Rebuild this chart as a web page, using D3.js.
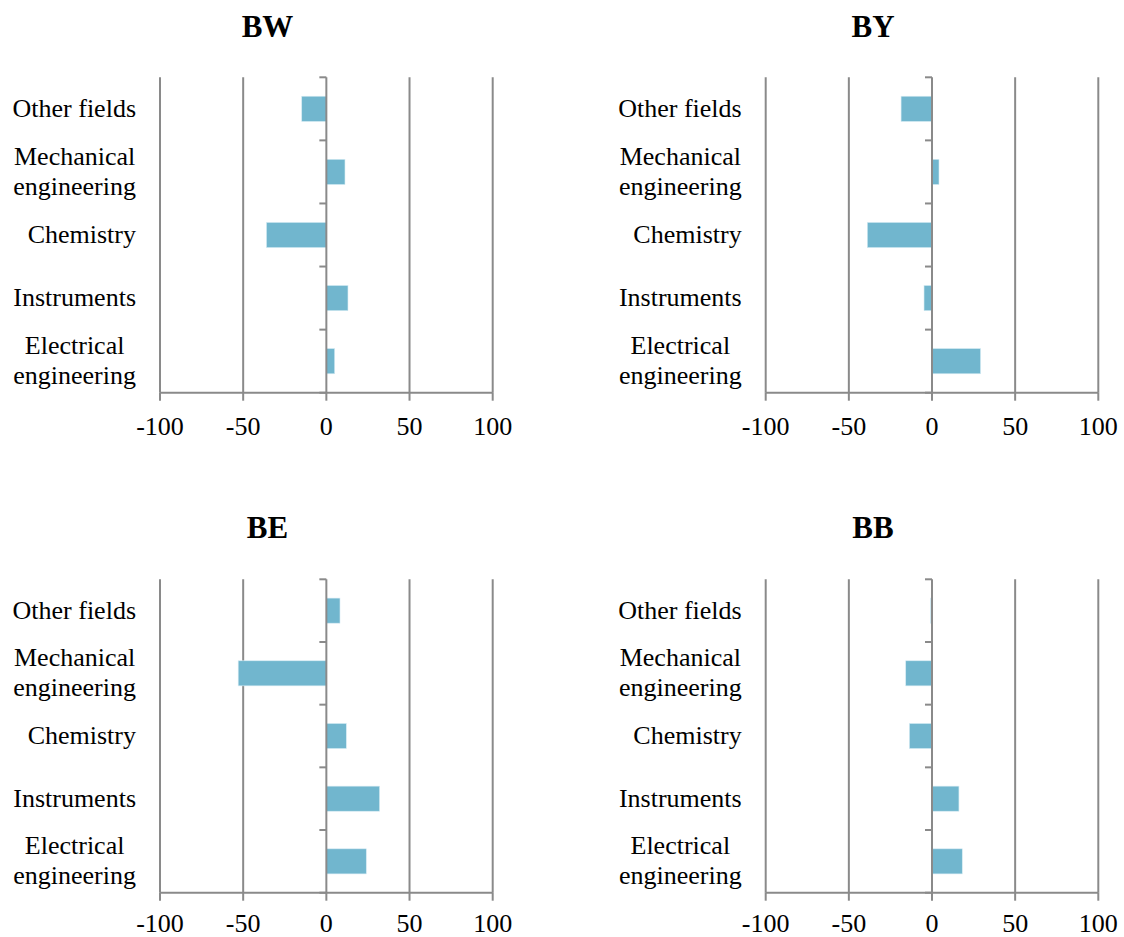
<!DOCTYPE html>
<html><head><meta charset="utf-8">
<script src="https://cdn.jsdelivr.net/npm/d3@7"></script>
<style>body{margin:0;background:#fff}svg{display:block}</style>
</head><body>
<svg id="c" width="1124" height="937"></svg>
<script>
const categories = ["Other fields", "Mechanical engineering", "Chemistry", "Instruments", "Electrical engineering"];
const panelTitles = ["BW", "BY", "BE", "BB"];
const valuesBW = [-14.8, 11.2, -36, 13, 5];
const valuesBY = [-18.6, 4.2, -38.9, -4.8, 29.2];
const valuesBE = [8.2, -53, 12, 32, 24];
const valuesBB = [-0.8, -15.8, -13.6, 16.2, 18.2];
const xTicks = [-100, -50, 0, 50, 100];
const allValues = [valuesBW, valuesBY, valuesBE, valuesBB];

const svg = d3.select("#c");
const font = "'Liberation Serif','Times New Roman',serif";
const grid = "#8a8a8a";
const barColor = "#71b6ce";

const panels = [
  {x0: 160, x1: 492.7, y0: 77.3, y1: 392.7, tx: 267.5, ty: 37, lo: 42.3},
  {x0: 765.7, x1: 1098.3, y0: 77.3, y1: 392.7, tx: 873, ty: 37, lo: 42.3},
  {x0: 160, x1: 492.7, y0: 579.3, y1: 892.7, tx: 267.5, ty: 538, lo: 39.5},
  {x0: 765.7, x1: 1098.3, y0: 579.3, y1: 892.7, tx: 873, ty: 538, lo: 39.5}
];

panels.forEach((p, i) => {
  const g = svg.append("g");
  const vals = allValues[i];
  const x = d3.scaleLinear().domain([-100, 100]).range([p.x0, p.x1]);
  const yb = d3.scaleBand().domain(categories).range([p.y0, p.y1]);

  // title
  g.append("text").attr("x", p.tx).attr("y", p.ty).attr("text-anchor", "middle")
    .attr("font-family", font).attr("font-weight", "bold").attr("font-size", 31)
    .text(panelTitles[i]);

  // vertical gridlines
  g.selectAll("line.grid").data(xTicks.filter(t => t !== 0)).join("line")
    .attr("x1", d => x(d)).attr("x2", d => x(d))
    .attr("y1", p.y0).attr("y2", p.y1)
    .attr("stroke", grid).attr("stroke-width", 2);

  // bars
  g.selectAll("rect").data(vals).join("rect")
    .attr("x", d => Math.min(x(0), x(d)))
    .attr("width", d => Math.abs(x(d) - x(0)))
    .attr("y", (d, j) => yb(categories[j]) + (yb.bandwidth() - yb.bandwidth() / 2.5) / 2)
    .attr("height", yb.bandwidth() / 2.5)
    .attr("fill", barColor)
    .attr("stroke", "#d6ebf3").attr("stroke-width", 0.6);

  // zero axis with category ticks
  g.append("line").attr("x1", x(0)).attr("x2", x(0)).attr("y1", p.y0).attr("y2", p.y1)
    .attr("stroke", grid).attr("stroke-width", 2);
  const bounds = categories.map(c => yb(c)).concat([p.y1]);
  g.selectAll("line.ct").data(bounds).join("line")
    .attr("x1", x(0) - 7).attr("x2", x(0)).attr("y1", d => d).attr("y2", d => d)
    .attr("stroke", grid).attr("stroke-width", 2);

  // bottom axis
  g.append("line").attr("x1", p.x0).attr("x2", p.x1).attr("y1", p.y1).attr("y2", p.y1)
    .attr("stroke", grid).attr("stroke-width", 2);
  g.selectAll("line.xt").data(xTicks).join("line")
    .attr("x1", d => x(d)).attr("x2", d => x(d)).attr("y1", p.y1).attr("y2", p.y1 + 8)
    .attr("stroke", grid).attr("stroke-width", 2);
  g.selectAll("text.xl").data(xTicks).join("text")
    .attr("x", d => x(d)).attr("y", p.y1 + p.lo)
    .attr("text-anchor", "middle").attr("font-family", font).attr("font-size", 26)
    .text(d => d);

  // category labels
  const right = p.x0 - 24;
  categories.forEach(c => {
    const words = c.split(" ");
    const lines = words.length > 1 && c !== "Other fields" ? words : [c];
    const cy = yb(c) + yb.bandwidth() / 2;
    const t = g.append("text").attr("font-family", font).attr("font-size", 26)
      .attr("text-anchor", "middle");
    const spans = lines.map((ln, k) => t.append("tspan").text(ln));
    const widths = spans.map(s => s.node().getComputedTextLength());
    const maxW = d3.max(widths);
    const cx = right - maxW / 2;
    const lh = 30;
    spans.forEach((s, k) => {
      s.attr("x", cx).attr("y", cy + 8 + (k - (lines.length - 1) / 2) * lh);
    });
  });
});
</script>
</body></html>
